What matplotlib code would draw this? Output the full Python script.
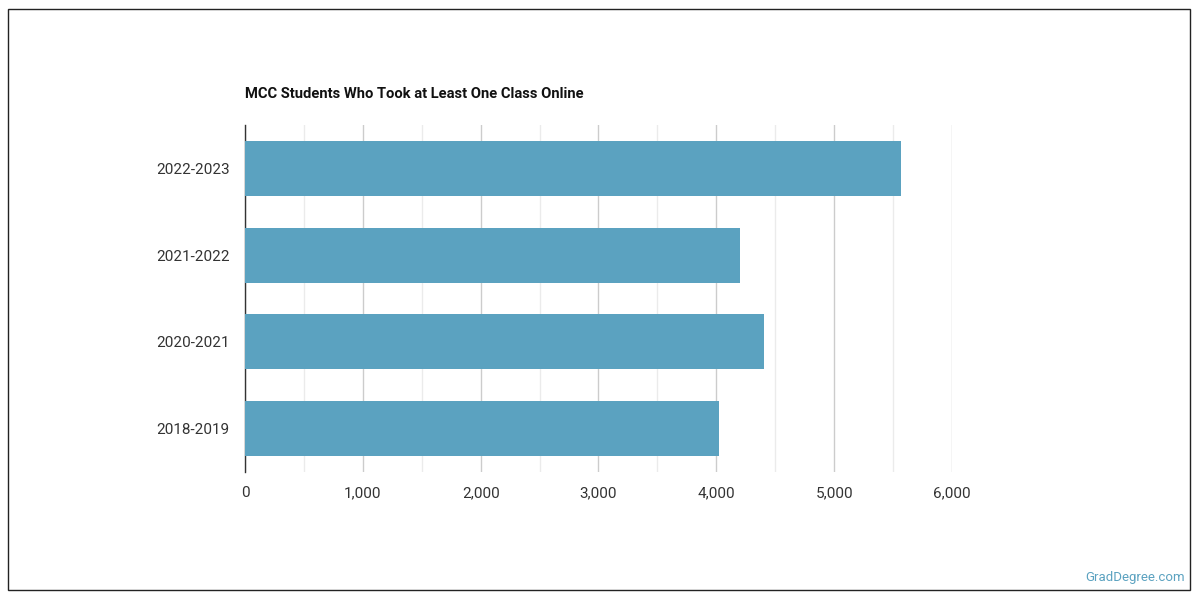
import matplotlib
matplotlib.use("Agg")
import matplotlib.pyplot as plt
from matplotlib.patches import Rectangle
from matplotlib.ticker import FuncFormatter, MultipleLocator

plt.rcParams['font.family'] = ['Roboto', 'DejaVu Sans']

years = ["2022-2023", "2021-2022", "2020-2021", "2018-2019"]
students = [5569, 4202, 4406, 4024]
title = "MCC Students Who Took at Least One Class Online"
bar_color = "#5ba2c0"

fig = plt.figure(figsize=(12, 6), dpi=100)
fig.patches.append(Rectangle((8/1200, 10/600), 1182/1200, 581/600, transform=fig.transFigure,
                             fill=False, edgecolor="#222222", linewidth=1.0))

ax = fig.add_axes([245/1200, 1-472/600, 707/1200, 347/600])
ypos = list(range(len(years)))[::-1]
ax.barh(ypos, students, height=0.635, color=bar_color, zorder=3)
ax.set_ylim(-0.5, len(years) - 0.5)
ax.set_xlim(0, 6000)
ax.set_yticks(ypos)
ax.set_yticklabels(years)
ax.xaxis.set_major_locator(MultipleLocator(1000))
ax.xaxis.set_minor_locator(MultipleLocator(500))
ax.xaxis.set_major_formatter(FuncFormatter(lambda v, p: f"{int(v):,}"))
ax.grid(axis='x', which='major', color="#cccccc", linewidth=1.0, zorder=0)
ax.grid(axis='x', which='minor', color="#ebebeb", linewidth=1.0, zorder=0)
ax.grid(axis='y', visible=False)
for s in ['top', 'right', 'bottom']:
    ax.spines[s].set_visible(False)
ax.spines['left'].set_color("#333333")
ax.spines['left'].set_linewidth(1.0)
ax.tick_params(axis='both', which='both', length=0, labelsize=11, labelcolor="#333333")
ax.tick_params(axis='y', pad=11)
ax.tick_params(axis='x', pad=10)

fig.text(245/1200, 1-94/600, title, fontsize=10.6, fontweight='bold', color="#111111",
         ha='left', va='center')
fig.text(1185/1200, 1-578/600, "GradDegree.com", fontsize=9.5, color="#5ba2c0",
         ha='right', va='center')

fig.savefig("out.png", dpi=100)
